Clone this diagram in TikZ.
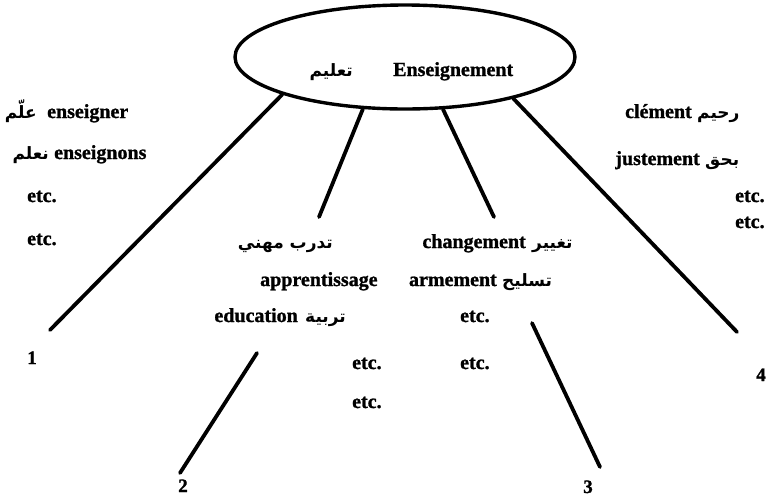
\documentclass[tikz,border=0pt]{standalone}
\usepackage{fontspec}
\setmainfont{Liberation Serif}[BoldFont={Liberation Serif Bold}, BoldFeatures={FakeBold=1.2}]
\newfontfamily\arabicfont[Script=Arabic]{DejaVu Sans}
\TeXXeTstate=1
\usetikzlibrary{shapes.geometric}
\begin{document}
\begin{tikzpicture}[x=1pt,y=-1pt,
  fr/.style={inner sep=0pt, font=\bfseries\fontsize{20}{24}\selectfont},
  ar/.style={inner sep=0pt, font=\arabicfont\bfseries\fontsize{17}{21}\selectfont},
  num/.style={inner sep=0pt, font=\bfseries\fontsize{19}{22}\selectfont},
  conn/.style={line width=3.8pt, line cap=round},
  oval/.style={ellipse, draw, line width=3.4pt, minimum width=340pt, minimum height=104pt, inner sep=0pt}]
\useasboundingbox (0,0) rectangle (772,499);
% central ellipse
\node[oval] (ell) at (405,57) {};
\node[ar, anchor=base east] (tAr) at (353,76) {\beginR تعليم\endR};
\node[fr, anchor=base west] (tFr) at (393,76) {Enseignement};
% left block
\node[ar, anchor=base east] (l1a) at (37,118) {\beginR علّم\endR};
\node[fr, anchor=base west] (l1f) at (47,118) {enseigner};
\node[ar, anchor=base east] (l2a) at (49,159) {\beginR نعلم\endR};
\node[fr, anchor=base west] (l2f) at (54,159) {enseignons};
\node[fr, anchor=base west] (l3) at (27,202) {etc.};
\node[fr, anchor=base west] (l4) at (27,245) {etc.};
% middle-left block
\node[ar, anchor=base east] (m1a) at (333,248) {\beginR تدرب مهني\endR};
\node[fr, anchor=base west] (m2f) at (260,286) {apprentissage};
\node[fr, anchor=base east] (m3f) at (298,322) {education};
\node[ar, anchor=base west] (m3a) at (305,322) {\beginR تربية\endR};
\node[fr, anchor=base west] (m4) at (352,369) {etc.};
\node[fr, anchor=base west] (m5) at (352,408) {etc.};
% middle-right block
\node[fr, anchor=base east] (n1f) at (526,248) {changement};
\node[ar, anchor=base west] (n1a) at (532,248) {\beginR تغيير\endR};
\node[fr, anchor=base east] (n2f) at (497,286) {armement};
\node[ar, anchor=base west] (n2a) at (502,286) {\beginR تسليح\endR};
\node[fr, anchor=base west] (n3) at (460,322) {etc.};
\node[fr, anchor=base west] (n4) at (460,369) {etc.};
% right block
\node[fr, anchor=base east] (r1f) at (692,118) {clément};
\node[ar, anchor=base west] (r1a) at (697,118) {\beginR رحيم\endR};
\node[fr, anchor=base east] (r2f) at (700,165) {justement};
\node[ar, anchor=base west] (r2a) at (705,165) {\beginR بحق\endR};
\node[fr, anchor=base west] (r3) at (735,202) {etc.};
\node[fr, anchor=base west] (r4) at (735,228) {etc.};
% numbers
\node[num, anchor=base] (k1) at (32,364) {1};
\node[num, anchor=base] (k2) at (183,492) {2};
\node[num, anchor=base] (k3) at (588,493) {3};
\node[num, anchor=base] (k4) at (761,381) {4};
% free ends
\coordinate (b1) at (50,330);
\coordinate (b2) at (319,217);
\coordinate (b3) at (494,217);
\coordinate (b4) at (737,332);
\coordinate (c2t) at (257,353);
\coordinate (c2b) at (180,473);
\coordinate (c3t) at (532,323);
\coordinate (c3b) at (600,467);
% connectors
\draw[conn] (ell.197.6) -- (b1);
\draw[conn] (ell.231.6) -- (b2);
\draw[conn] (ell.306.1) -- (b3);
\draw[conn] (ell.339.3) -- (b4);
\draw[conn] (c2t) -- (c2b);
\draw[conn] (c3t) -- (c3b);
\end{tikzpicture}
\end{document}
